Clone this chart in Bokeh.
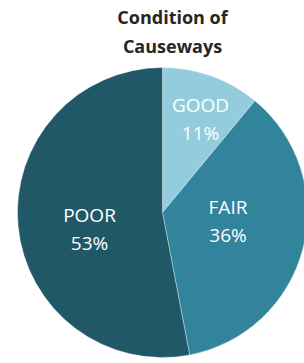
import math
from bokeh.plotting import figure
from bokeh.models import Range1d, ColumnDataSource
from bokeh.core.properties import value
from bokeh.embed import file_html
from bokeh.resources import INLINE

categories = ["GOOD", "FAIR", "POOR"]
shares = [11, 36, 53]
colors = ["#93cddd", "#31849b", "#215868"]
label_radius = [0.697, 0.455, 0.516]
label_angle_shift = [-2.3, 7.4, 7.3]
title_lines = ["Condition of", "Causeways"]

W, H = 304, 363
# page coordinates: x = screen x, y = H - screen y
cx, cy, R = 162, H - 212, 145

total = sum(shares)
starts, ends, lx, ly, names, pcts = [], [], [], [], [], []
cum = 0.0
for cat, s, lr, da in zip(categories, shares, label_radius, label_angle_shift):
    a0 = math.pi / 2 - 2 * math.pi * (cum + s) / total
    a1 = math.pi / 2 - 2 * math.pi * cum / total
    starts.append(a0)
    ends.append(a1)
    mid = (a0 + a1) / 2 + math.radians(da)
    lx.append(cx + lr * R * math.cos(mid))
    ly.append(cy + lr * R * math.sin(mid))
    names.append(cat)
    pcts.append(f"{round(100 * s / total)}%")
    cum += s

src = ColumnDataSource(dict(start=starts, end=ends, color=colors,
                            lx=lx, ly=ly, name=names, pct=pcts))

p = figure(width=W, height=H, x_range=Range1d(0, W), y_range=Range1d(0, H),
           output_backend="svg", toolbar_location=None, min_border=0)
p.axis.visible = False
p.grid.visible = False
p.outline_line_color = None
p.background_fill_color = "white"
p.border_fill_color = "white"

p.wedge(x=cx, y=cy, radius=R, start_angle="start", end_angle="end",
        direction="anticlock", fill_color="color", line_color="white",
        line_alpha=0.6, line_width=0.6, source=src)

p.text(x="lx", y="ly", text="name", source=src, text_color="white",
       text_font=value("Open Sans"), text_font_size="19px",
       text_align="center", text_baseline="middle", y_offset=-14)
p.text(x="lx", y="ly", text="pct", source=src, text_color="white",
       text_font=value("Open Sans"), text_font_size="19px",
       text_align="center", text_baseline="middle", y_offset=14)

p.text(x=[172, 172], y=[H - 16, H - 45], text=title_lines,
       text_color="#262626", text_font=value("Open Sans"), text_font_size="18px",
       text_font_style="bold", text_align="center", text_baseline="middle")

open("out.html", "w").write(file_html(p, INLINE))
